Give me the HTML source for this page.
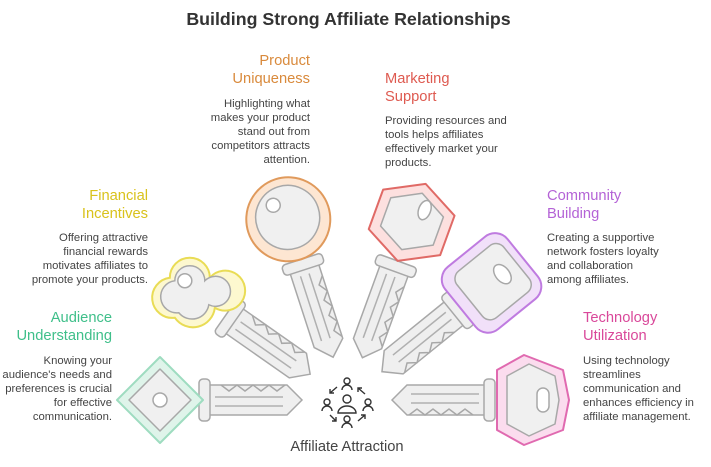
<!DOCTYPE html>
<html><head><meta charset="utf-8"><style>
body{margin:0;width:711px;height:467px;background:#fff;position:relative;overflow:hidden;font-family:"Liberation Sans",sans-serif}
.t{position:absolute;font-size:14.7px;line-height:18px}
.b{position:absolute;font-size:11.3px;line-height:14px;color:#444}
.r{text-align:right}
</style></head><body>
<div style="position:absolute;top:9px;left:0;width:697px;text-align:center;font-size:17.8px;font-weight:bold;color:#333">Building Strong Affiliate Relationships</div>

<div class="t r" style="right:401px;top:52px;color:#d98a3c">Product<br>Uniqueness</div>
<div class="b r" style="right:401px;top:97px">Highlighting what<br>makes your product<br>stand out from<br>competitors attracts<br>attention.</div>

<div class="t" style="left:385px;top:70px;color:#de5a50">Marketing<br>Support</div>
<div class="b" style="left:385px;top:114px">Providing resources and<br>tools helps affiliates<br>effectively market your<br>products.</div>

<div class="t r" style="right:563px;top:187px;color:#d9c21c">Financial<br>Incentives</div>
<div class="b r" style="right:563px;top:231px">Offering attractive<br>financial rewards<br>motivates affiliates to<br>promote your products.</div>

<div class="t" style="left:547px;top:187px;color:#b463d6">Community<br>Building</div>
<div class="b" style="left:547px;top:231px">Creating a supportive<br>network fosters loyalty<br>and collaboration<br>among affiliates.</div>

<div class="t r" style="right:599px;top:309px;color:#3fbf8a">Audience<br>Understanding</div>
<div class="b r" style="right:599px;top:354px">Knowing your<br>audience's needs and<br>preferences is crucial<br>for effective<br>communication.</div>

<div class="t" style="left:583px;top:309px;color:#d9489a">Technology<br>Utilization</div>
<div class="b" style="left:583px;top:354px">Using technology<br>streamlines<br>communication and<br>enhances efficiency in<br>affiliate management.</div>

<div style="position:absolute;left:247px;width:200px;text-align:center;top:439px;font-size:14.7px;color:#444">Affiliate Attraction</div>

<svg width="711" height="467" style="position:absolute;left:0;top:0">
<defs>
<g id="blade">
<path d="M45,0 L60,-15 L140,-15 L140,15 L60,15 Z" fill="#efefef" stroke="#a8a8a8" stroke-width="1.5"/>
<path d="M62,15 L70,9 L78,15 L86,9 L94,15 L102,9 L110,15 L118,9 L126,15" fill="none" stroke="#a8a8a8" stroke-width="1.5"/>
<path d="M64,-6 L132,-6 M64,3 L132,3" stroke="#b0b0b0" stroke-width="1.5" fill="none"/>
<rect x="137" y="-21" width="11" height="42" rx="4" fill="#efefef" stroke="#a8a8a8" stroke-width="1.5"/>
</g>
</defs>
<g transform="rotate(180 347 400) translate(347 400)">
<use href="#blade"/>
<path d="M187,-43 L230,0 L187,43 L144,0 Z" fill="#dff4ea" stroke="#9edcc0" stroke-width="2" stroke-linejoin="round"/>
<path d="M187,-31 L218,0 L187,31 L156,0 Z" fill="#f0f0f0" stroke="#a8a8a8" stroke-width="1.5" stroke-linejoin="round"/>
<circle cx="187" cy="0" r="7" fill="#fff" stroke="#a8a8a8" stroke-width="1.5"/>
</g>
<g transform="rotate(215 347 400) translate(347 400)">
<use href="#blade"/>
<g transform="rotate(-215 187 0)">
<path d="M163,-15 a20,20 0 1 1 40,0 a20,20 0 1 1 5,30 a22,22 0 0 1 -40,10 a20,20 0 0 1 -5,-40z" fill="#fdf8cf" stroke="#e9dc55" stroke-width="2"/>
<path d="M168,-12 a15,15 0 1 1 30,0 a15,15 0 1 1 4,24 a17,17 0 0 1 -30,8 a15,15 0 0 1 -4,-32z" fill="#f0f0f0" stroke="#a8a8a8" stroke-width="1.5"/>
<circle cx="178" cy="-12" r="7" fill="#fff" stroke="#a8a8a8" stroke-width="1.5"/>
</g>
</g>
<g transform="rotate(252 347 400) translate(347 400)">
<use href="#blade"/>
<circle cx="190" cy="0" r="42" fill="#fde6d2" stroke="#e09a5c" stroke-width="2"/>
<circle cx="192" cy="0" r="32" fill="#f0f0f0" stroke="#a8a8a8" stroke-width="1.5"/>
<circle cx="208" cy="-10" r="7" fill="#fff" stroke="#a8a8a8" stroke-width="1.5"/>
</g>
<g transform="rotate(290 347 400) translate(347 400)">
<use href="#blade"/>
<path d="M148,0 L168,-38 L210,-38 L230,0 L210,38 L168,38 Z" fill="#fde0df" stroke="#e06a66" stroke-width="2" stroke-linejoin="round"/>
<path d="M160,0 L175,-28 L205,-28 L220,0 L205,28 L175,28 Z" fill="#f0f0f0" stroke="#a8a8a8" stroke-width="1.5" stroke-linejoin="round"/>
<ellipse cx="205" cy="8" rx="10" ry="6" fill="#fff" stroke="#a8a8a8" stroke-width="1.5"/>
</g>
<g transform="rotate(321 347 400) translate(347 400)">
<use href="#blade"/>
<rect x="146" y="-40" width="80" height="80" rx="16" fill="#f1e0f9" stroke="#bf7be0" stroke-width="2"/>
<rect x="158" y="-30" width="60" height="60" rx="10" fill="#f0f0f0" stroke="#a8a8a8" stroke-width="1.5"/>
<ellipse cx="200" cy="0" rx="7" ry="11" fill="#fff" stroke="#a8a8a8" stroke-width="1.5"/>
</g>
<g transform="translate(347 400)">
<use href="#blade"/>
<path d="M150,-30 L177,-45 L216,-30 L222,0 L216,30 L177,45 L150,30 Z" fill="#fbdcee" stroke="#e06ab0" stroke-width="2" stroke-linejoin="round"/>
<path d="M160,-24 L182,-36 L208,-24 L212,0 L208,24 L182,36 L160,24 Z" fill="#f0f0f0" stroke="#a8a8a8" stroke-width="1.5" stroke-linejoin="round"/>
<rect x="190" y="-12" width="12" height="24" rx="6" fill="#fff" stroke="#a8a8a8" stroke-width="1.5"/>
</g>
<g fill="none" stroke="#333" stroke-width="1.4">
<circle cx="347" cy="399" r="4"/><path d="M338,413 a9,7 0 0 1 18,0 z"/>
<circle cx="347" cy="381" r="3"/><path d="M342,390 a5,5 0 0 1 10,0"/>
<circle cx="327" cy="402" r="3"/><path d="M322,411 a5,5 0 0 1 10,0"/>
<circle cx="368" cy="402" r="3"/><path d="M363,411 a5,5 0 0 1 10,0"/>
<circle cx="347" cy="419" r="3"/><path d="M342,428 a5,5 0 0 1 10,0"/>
<path d="M337,387 l-7,6 m0,-4 v4 h4"/>
<path d="M365,394 l-7,-6 m4,0 h-4 v4"/>
<path d="M330,415 l6,6 m-4,0 h4 v-4"/>
<path d="M358,421 l7,-6 m-4,0 h4 v4"/>
</g>
</svg>
</body></html>
